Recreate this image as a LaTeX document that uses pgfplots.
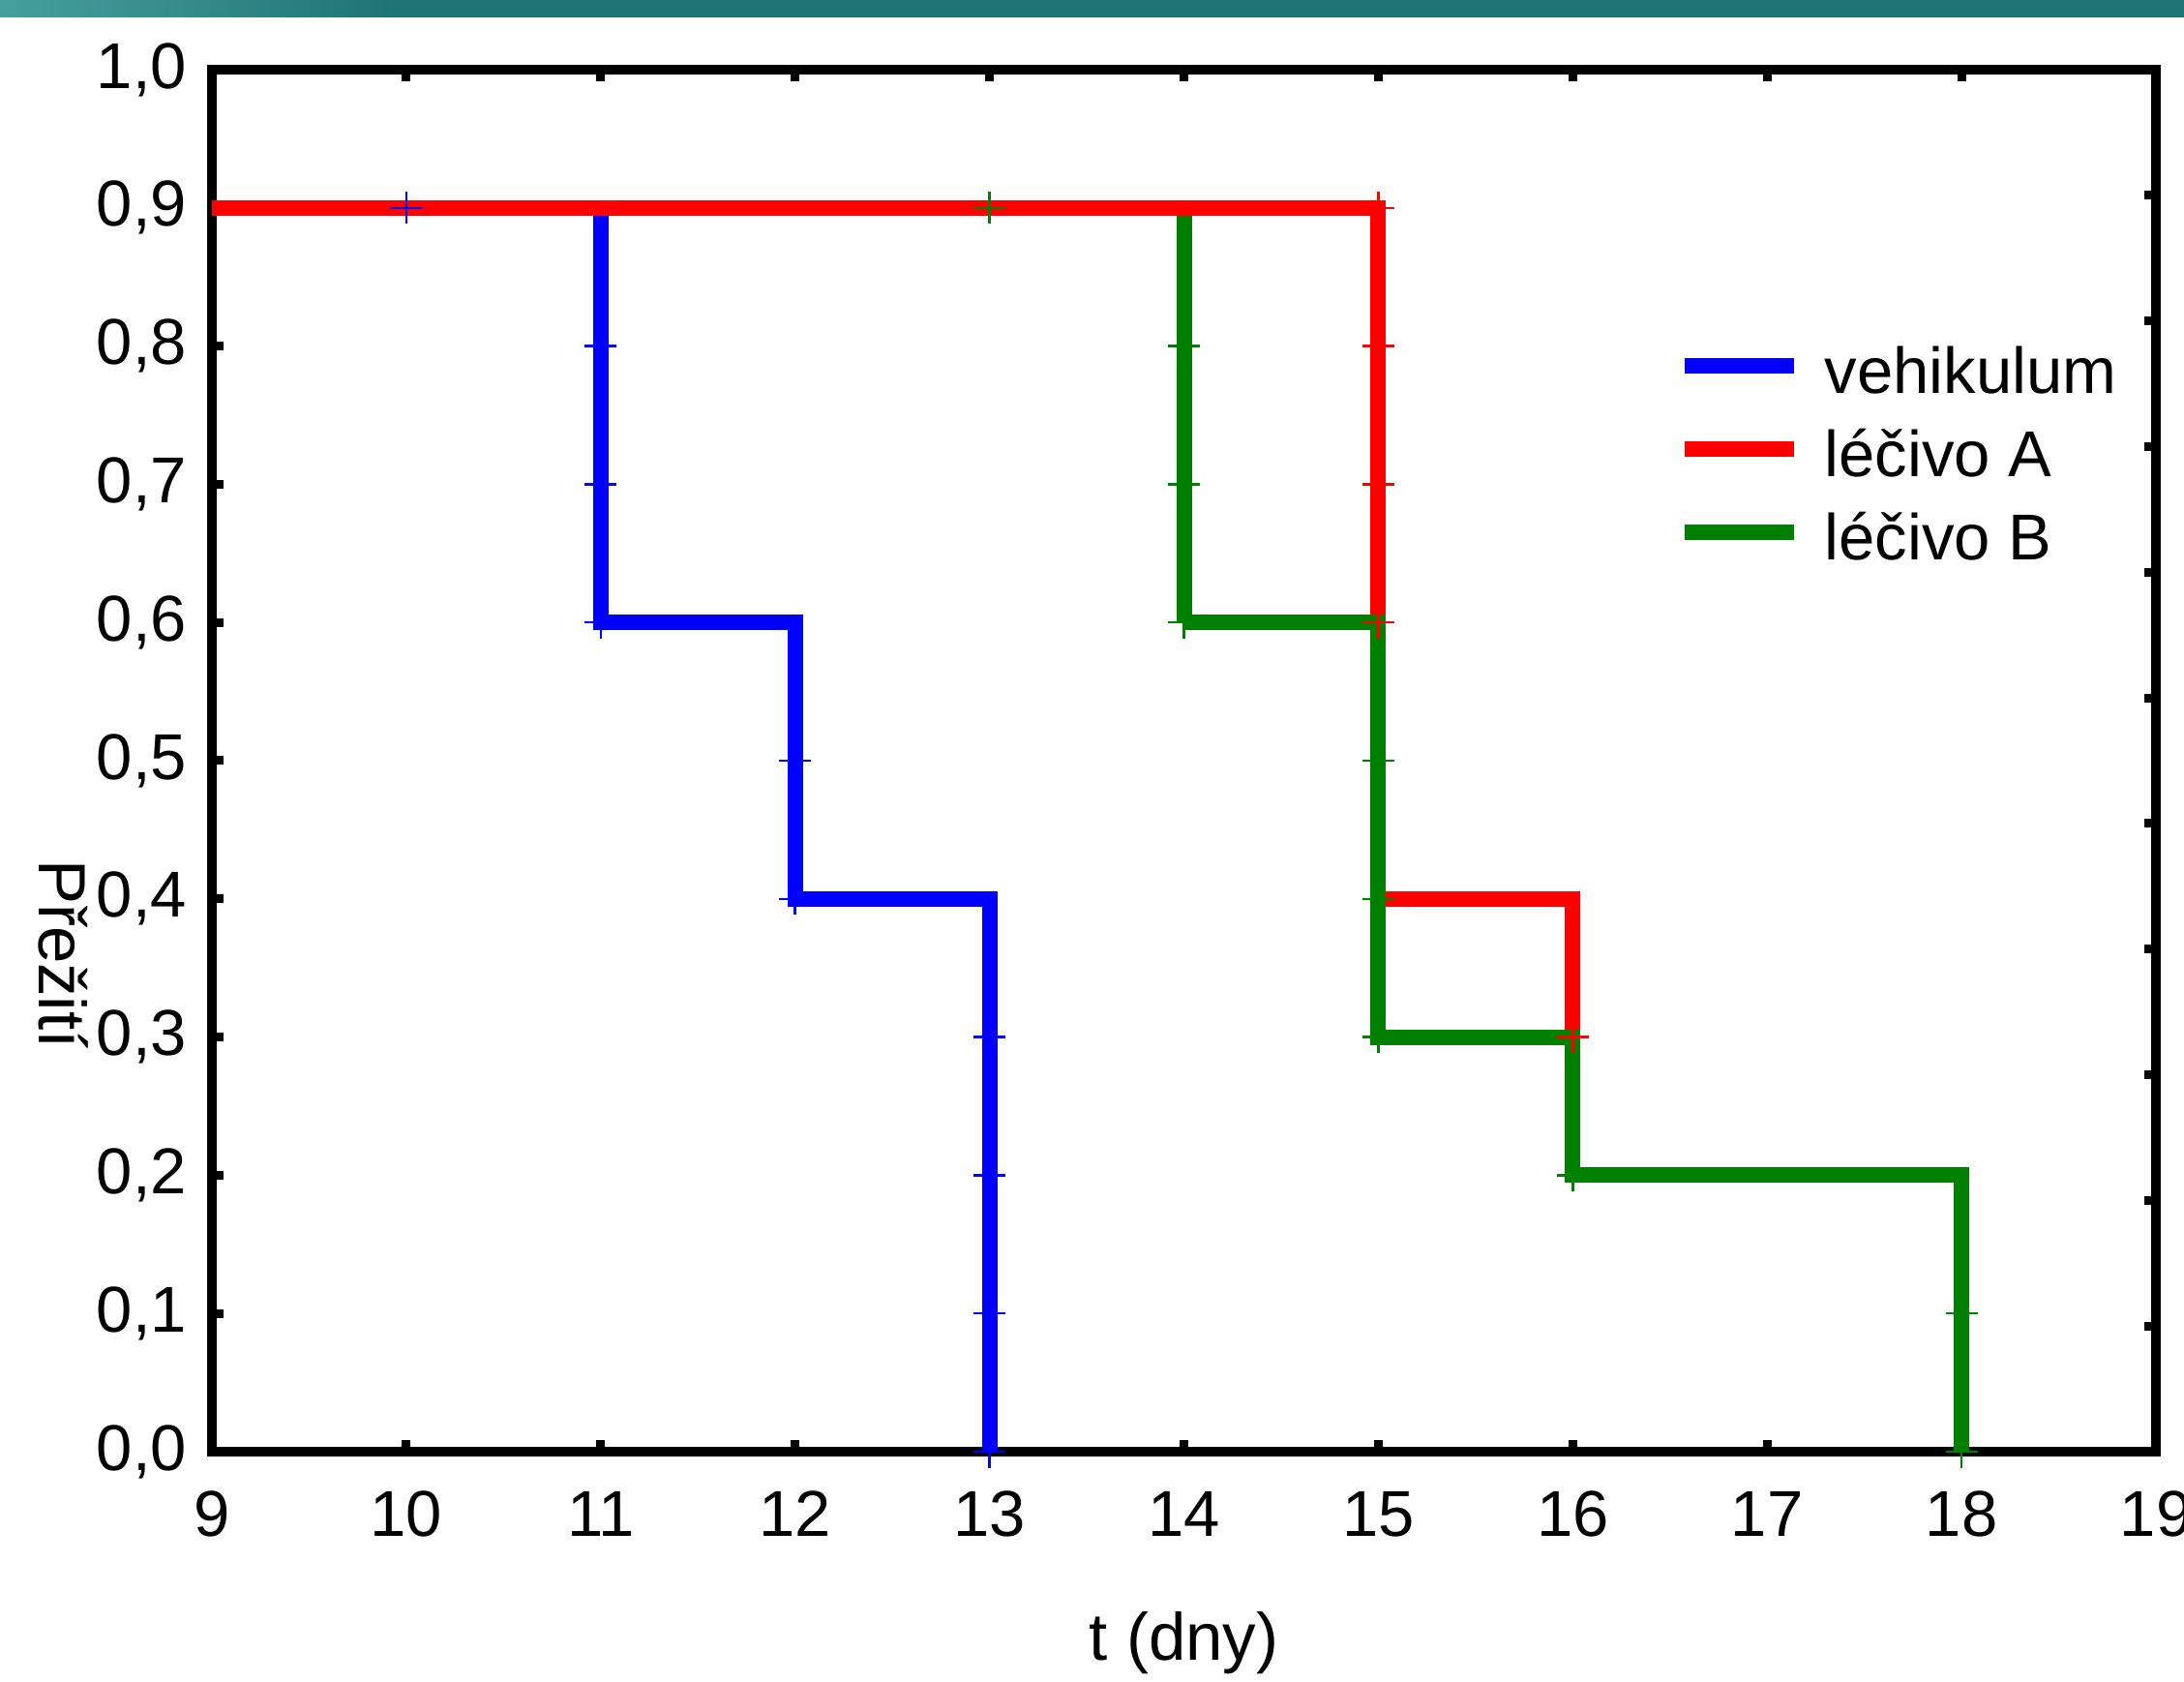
\documentclass[border=0pt]{standalone}
\usepackage{fontspec}
\setmainfont{Liberation Sans}
\usepackage{pgfplots}
\pgfplotsset{compat=1.18}

\definecolor{vblue}{RGB}{0,0,255}
\definecolor{lred}{RGB}{255,0,0}
\definecolor{lgreen}{RGB}{0,128,0}
\definecolor{tealband}{RGB}{31,117,117}
\definecolor{tealleft}{RGB}{70,160,158}

\pgfplotsset{
  frameaxis/.style={
    at={(43.8pt,47.4pt)}, anchor=south west,
    scale only axis, width=401.8pt, height=285.6pt,
    tick align=inside, major tick length=2.4pt,
    every tick/.style={black, line width=1.8pt},
  }
}

\begin{document}
\begin{tikzpicture}
\useasboundingbox (0,0) rectangle (451.4pt,347.4pt);
\fill[tealband] (0,343.8pt) rectangle (451.4pt,347.4pt);
\shade[left color=tealleft, right color=tealband] (0,343.8pt) rectangle (80pt,347.4pt);

% right-hand ticks (11 divisions)
\begin{axis}[frameaxis,
  xmin=0, xmax=1, ymin=0, ymax=11,
  axis line style={draw=none},
  xtick=\empty, ytick={1,2,3,4,5,6,7,8,9,10}, yticklabels={},
  ytick pos=right]
  \addplot[draw=none, forget plot] coordinates {(0.5,5)};
\end{axis}

\begin{axis}[frameaxis,
  xmin=9, xmax=19, ymin=0, ymax=1,
  axis line style={line width=2pt},
  xtick={9,10,11,12,13,14,15,16,17,18,19},
  ytick={0,0.1,0.2,0.3,0.4,0.5,0.6,0.7,0.8,0.9,1.0},
  xtick pos=both, xticklabel pos=lower,
  ytick pos=left,
  /pgf/number format/assume math mode=true,
  tick label style={font=\fontsize{13.4}{16}\selectfont},
  yticklabel style={/pgf/number format/fixed, /pgf/number format/fixed zerofill,
    /pgf/number format/precision=1, /pgf/number format/use comma,
    inner sep=0pt, anchor=east, xshift=-5pt},
  xticklabel style={inner sep=0pt, anchor=north, yshift=-8pt},
  xlabel={t (dny)},
  xlabel style={font=\fontsize{13.8}{16}\selectfont, at={(axis description cs:0.5,0)}, anchor=center, yshift=-39.6pt},
  ylabel={Přežití},
  ylabel style={font=\fontsize{13.8}{16}\selectfont, at={(axis description cs:-0.0765,0.36)}, anchor=center, rotate=180},
  legend style={draw=none, fill=none, at={(rel axis cs:0.753,0.80)}, anchor=north west,
    inner sep=0pt, row sep=5pt,
    nodes={inner sep=0pt, text height=9.6pt, text depth=2.6pt, font=\fontsize{13.4}{16}\selectfont}},
  legend cell align=left,
  legend image code/.code={\draw[#1, line width=3.2pt] (0pt,2.3pt) -- (22.6pt,2.3pt);
    \path[draw=none] (0pt,2.3pt) -- (29pt,2.3pt);},
  every axis plot/.append style={line join=miter, line cap=butt},
]
% vehikulum
\addplot[const plot, vblue, line width=3.2pt] coordinates {(10,0.9) (11,0.6) (12,0.4) (13,0.0)};
\addlegendentry{vehikulum}
\addplot[only marks, mark=+, mark size=3.3pt, mark options={vblue, line width=0.5pt}, forget plot]
  coordinates {(10,0.9) (11,0.8) (11,0.7) (11,0.6) (12,0.5) (12,0.4) (13,0.3) (13,0.2) (13,0.1) (13,0.0)};
% léčivo B, first part (under red)
\addplot[const plot, lgreen, line width=3.2pt, forget plot] coordinates {(13,0.9) (14,0.6)};
% léčivo A
\addplot[const plot, lred, line width=3.2pt] coordinates {(9,0.9) (15,0.4) (16,0.3)};
\addlegendentry{léčivo A}
\addplot[only marks, mark=+, mark size=3.3pt, mark options={lred, line width=0.5pt}, forget plot]
  coordinates {(15,0.9) (15,0.8) (15,0.7) (15,0.6) (15,0.5) (15,0.4) (16,0.3)};
% léčivo B
\addplot[const plot, lgreen, line width=3.2pt] coordinates {(14,0.6) (15,0.3) (16,0.2) (18,0.0)};
\addlegendentry{léčivo B}
\addplot[only marks, mark=+, mark size=3.3pt, mark options={lgreen, line width=0.5pt}, forget plot]
  coordinates {(13,0.9) (14,0.8) (14,0.7) (14,0.6) (15,0.5) (15,0.4) (15,0.3) (16,0.2) (18,0.1) (18,0.0)};
\end{axis}
\end{tikzpicture}
\end{document}
